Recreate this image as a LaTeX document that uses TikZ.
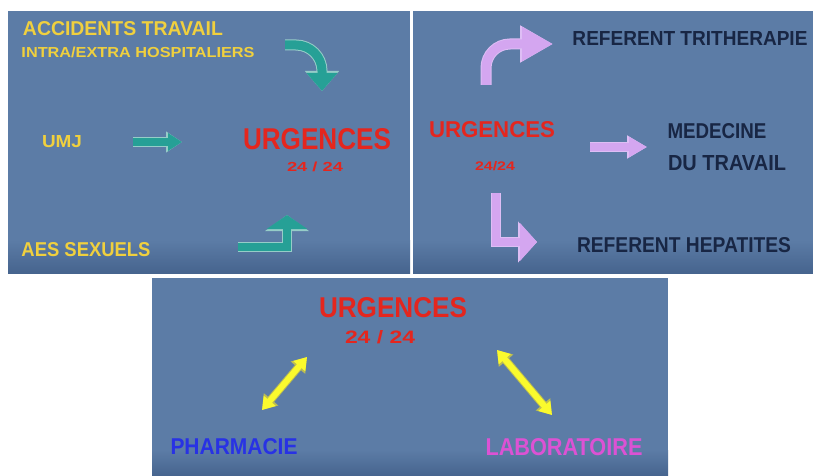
\documentclass[tikz,border=0pt]{standalone}
\usepackage{fontspec}
\setmainfont{Liberation Sans}
\usetikzlibrary{arrows.meta}
\definecolor{slate}{RGB}{92,124,166}
\definecolor{slatedark}{RGB}{70,100,142}
\definecolor{yel}{RGB}{240,208,62}
\definecolor{redt}{RGB}{228,38,30}
\definecolor{navy}{RGB}{24,38,68}
\definecolor{bluet}{RGB}{40,50,228}
\definecolor{magt}{RGB}{220,82,212}
\definecolor{tealc}{RGB}{38,160,150}
\definecolor{tealrim}{RGB}{150,205,200}
\definecolor{lilac}{RGB}{212,166,240}
\definecolor{lilacrim}{RGB}{222,190,245}
\definecolor{yarr}{RGB}{250,250,45}
\definecolor{yrim}{RGB}{190,190,80}
\newcommand{\fittext}[3]{\resizebox{#1pt}{#2pt}{\bfseries #3}}
\tikzset{
  txt/.style={inner sep=0pt, anchor=center},
  panelbox/.style={fill=slate},
  tealrimline/.style={draw=tealrim, line width=10pt},
  tealline/.style={draw=tealc, line width=8pt},
  lilacrimline/.style={draw=lilacrim, line width=11pt},
  lilacline/.style={draw=lilac, line width=9pt},
  yrimline/.style={draw=yrim, line width=8pt},
  yline/.style={draw=yarr, line width=6pt},
}
\begin{document}
\begin{tikzpicture}[x=1pt,y=-1pt]
\useasboundingbox (0,0) rectangle (813,476);
\fill[white] (0,0) rectangle (813,476);
% panels
\fill[panelbox] (8,11) rectangle (410,273);
\shade[top color=slate, bottom color=slatedark] (8,240) rectangle (410,273);
\fill[panelbox] (413,11) rectangle (813,273);
\shade[top color=slate, bottom color=slatedark] (413,240) rectangle (813,273);
\fill[panelbox] (152,278) rectangle (668,476);
\shade[top color=slate, bottom color=slatedark] (152,450) rectangle (668,476);

% ---------- panel 1 ----------
\node[txt, text=yel] (acc) at (123,29) {\fittext{200}{14}{ACCIDENTS TRAVAIL}};
\node[txt, text=yel] (intra) at (138,52) {\fittext{233}{10.5}{INTRA/EXTRA HOSPITALIERS}};
\node[txt, text=yel] (umj) at (62,142) {\fittext{40}{12}{UMJ}};
\node[txt, text=yel] (aes) at (86,250) {\fittext{129}{14}{AES SEXUELS}};
\node[txt, text=redt] (urg1) at (317,139) {\fittext{148}{21}{URGENCES}};
\node[txt, text=redt] (h1) at (315,167) {\fittext{56}{9.5}{24 / 24}};

\coordinate (a1s) at (285,45);
\coordinate (a1e) at (322,91);
\draw[tealrimline, line width=11pt, rounded corners=26pt, -{Triangle[width=33pt,length=20pt]}] (a1s) -| (a1e);
\draw[tealline, line width=9pt, rounded corners=26pt, -{Triangle[width=30pt,length=18pt]}] (a1s) -| (a1e);

\coordinate (a2s) at (133,142);
\coordinate (a2e) at (182,142);
\draw[tealrimline, -{Triangle[width=20pt,length=16pt]}] (a2s) -- (a2e);
\draw[tealline, -{Triangle[width=17pt,length=14pt]}] (a2s) -- (a2e);

\coordinate (a3s) at (238,246.5);
\coordinate (a3e) at (287,215);
\draw[tealrimline, -{Triangle[width=43pt,length=16pt]}] (a3s) -| (a3e);
\draw[tealline, -{Triangle[width=40pt,length=14pt]}] (a3s) -| (a3e);

% ---------- panel 2 ----------
\node[txt, text=navy] (trith) at (690,39) {\fittext{235}{14}{REFERENT TRITHERAPIE}};
\node[txt, text=redt] (urg2) at (492,130) {\fittext{126}{16}{URGENCES}};
\node[txt, text=redt] (h2) at (495,166) {\fittext{40}{9}{24/24}};
\node[txt, text=navy] (med) at (717,131) {\fittext{99}{15}{MEDECINE}};
\node[txt, text=navy] (dut) at (727,163) {\fittext{118}{15}{DU TRAVAIL}};
\node[txt, text=navy] (hep) at (684,245) {\fittext{214}{15}{REFERENT HEPATITES}};

\coordinate (b1s) at (486,85);
\coordinate (b1e) at (553,44);
\draw[lilacrimline, rounded corners=24pt, -{Triangle[width=35pt,length=33pt]}] (b1s) |- (b1e);
\draw[lilacline, rounded corners=24pt, -{Triangle[width=32pt,length=31pt]}] (b1s) |- (b1e);

\coordinate (b2s) at (590,147);
\coordinate (b2e) at (647,147);
\draw[lilacrimline, line width=10pt, -{Triangle[width=22pt,length=20pt]}] (b2s) -- (b2e);
\draw[lilacline, line width=8pt, -{Triangle[width=19pt,length=18pt]}] (b2s) -- (b2e);

\coordinate (b3s) at (496,193);
\coordinate (b3e) at (537,242);
\draw[lilacrimline, line width=10pt, -{Triangle[width=40pt,length=19pt]}] (b3s) |- (b3e);
\draw[lilacline, line width=8pt, -{Triangle[width=37pt,length=17pt]}] (b3s) |- (b3e);

% ---------- panel 3 ----------
\node[txt, text=redt] (urg3) at (393,308) {\fittext{148}{20}{URGENCES}};
\node[txt, text=redt] (h3) at (380,337) {\fittext{70}{13}{24 / 24}};
\node[txt, text=bluet] (pha) at (234,447) {\fittext{127}{16}{PHARMACIE}};
\node[txt, text=magt] (lab) at (564,447) {\fittext{157}{17}{LABORATOIRE}};

\coordinate (c1s) at (307,357);
\coordinate (c1e) at (262,410);
\draw[yrimline, {Triangle[width=18pt,length=14pt]}-{Triangle[width=18pt,length=14pt]}] (c1s) -- (c1e);
\draw[yline, {Triangle[width=15pt,length=12pt]}-{Triangle[width=15pt,length=12pt]}] (c1s) -- (c1e);

\coordinate (c2s) at (497,350);
\coordinate (c2e) at (552,415);
\draw[yrimline, {Triangle[width=18pt,length=14pt]}-{Triangle[width=18pt,length=14pt]}] (c2s) -- (c2e);
\draw[yline, {Triangle[width=15pt,length=12pt]}-{Triangle[width=15pt,length=12pt]}] (c2s) -- (c2e);
\end{tikzpicture}
\end{document}
